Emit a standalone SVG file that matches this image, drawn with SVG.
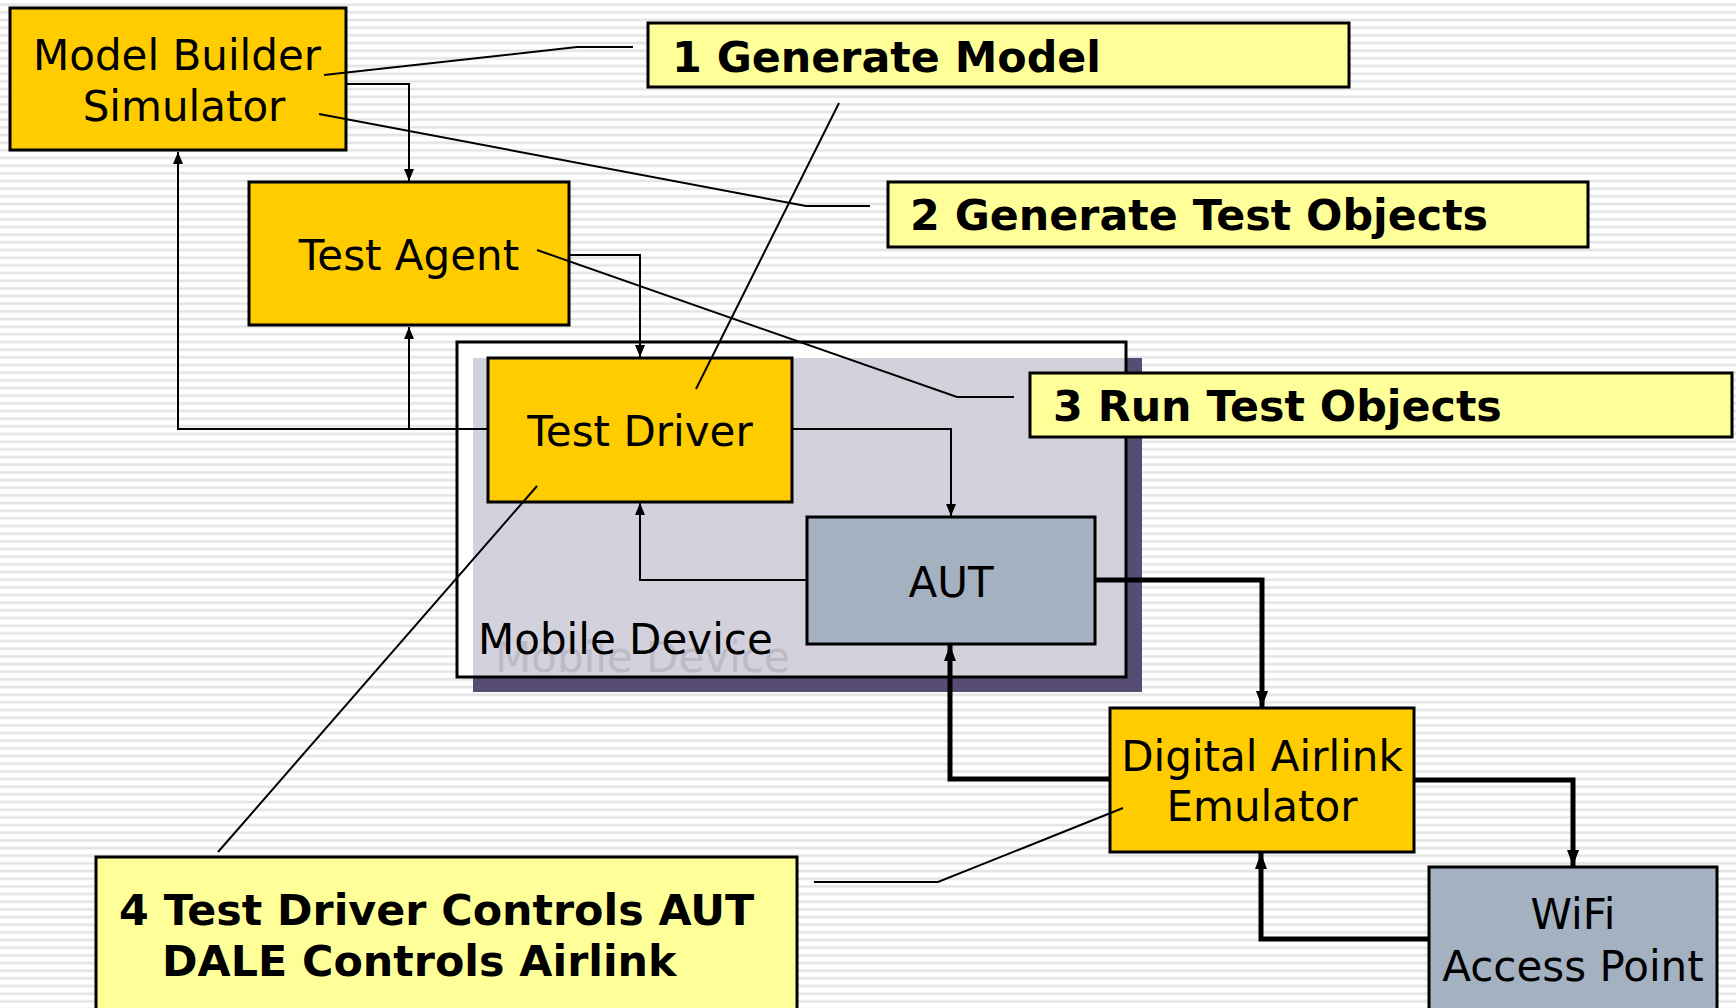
<svg xmlns="http://www.w3.org/2000/svg" width="1736" height="1008" viewBox="0 0 1736 1008">
  <defs>
    <pattern id="stripes" x="0" y="0" width="16" height="7.667" patternUnits="userSpaceOnUse">
      <rect x="0" y="0" width="16" height="7.667" fill="#ffffff"/>
      <rect x="0" y="3.4" width="16" height="2.6" fill="#e4e4e4"/>
    </pattern>
    <marker id="arrow" markerUnits="userSpaceOnUse" markerWidth="12" markerHeight="14" refX="12" refY="5" orient="auto">
      <path d="M0,0 L12,5 L0,10 Z" fill="#000"/>
    </marker>
    <marker id="arrowBold" markerUnits="userSpaceOnUse" markerWidth="16" markerHeight="14" refX="16" refY="6" orient="auto">
      <path d="M0,0 L16,6 L0,12 Z" fill="#000"/>
    </marker>
  </defs>
  <style>
    .block { fill: #ffcc00; stroke: #000; stroke-width: 3; }
    .device { fill: #a3b1c1; stroke: #000; stroke-width: 3; }
    .note { fill: #ffff99; stroke: #000; stroke-width: 3; }
    .txt { font-family: "DejaVu Sans", Verdana, sans-serif; font-size: 42px; fill: #000; }
    .ghost { fill: #bdbac6; }
    .mid { text-anchor: middle; }
    .bold { font-family: "DejaVu Sans", Verdana, sans-serif; font-size: 42.8px; font-weight: bold; fill: #000; }
    .link { fill: none; stroke: #000; stroke-width: 2; marker-end: url(#arrow); }
    .thick { fill: none; stroke: #000; stroke-width: 5; marker-end: url(#arrowBold); }
    .leader { fill: none; stroke: #000; stroke-width: 2; }
  </style>

  <!-- striped background -->
  <rect x="0" y="0" width="1736" height="1008" fill="url(#stripes)"/>

  <!-- Mobile Device container with drop shadow -->
  <g id="mobile-device">
    <rect x="473" y="358" width="669" height="334" fill="#564c74"/>
    <rect x="457" y="342" width="669" height="335" fill="#ffffff"/>
    <rect x="473" y="358" width="653" height="319" fill="#d3d1dc"/>
    <rect x="457" y="342" width="669" height="335" fill="none" stroke="#000" stroke-width="3"/>
    <text class="txt ghost" x="495" y="672">Mobile Device</text>
    <text class="txt" x="478" y="654">Mobile Device</text>
  </g>

  <g id="model-builder">
    <rect class="block" x="10" y="8" width="336" height="142"/>
    <text class="txt mid" x="177" y="70">Model Builder</text>
    <text class="txt mid" x="184" y="121">Simulator</text>
  </g>

  <g id="test-agent">
    <rect class="block" x="249" y="182" width="320" height="143"/>
    <text class="txt mid" x="409" y="270">Test Agent</text>
  </g>

  <g id="test-driver">
    <rect class="block" x="488" y="358" width="304" height="144"/>
    <text class="txt mid" x="640" y="446">Test Driver</text>
  </g>

  <g id="aut">
    <rect class="device" x="807" y="517" width="288" height="127"/>
    <text class="txt mid" x="951" y="597">AUT</text>
  </g>

  <g id="dale">
    <rect class="block" x="1110" y="708" width="304" height="144"/>
    <text class="txt mid" x="1262" y="771">Digital Airlink</text>
    <text class="txt mid" x="1262" y="821">Emulator</text>
  </g>

  <g id="wifi">
    <rect class="device" x="1429" y="867" width="288" height="150"/>
    <text class="txt mid" x="1573" y="929">WiFi</text>
    <text class="txt mid" x="1573" y="981">Access Point</text>
  </g>

  <!-- connectors -->
  <g id="connectors">
    <path class="link" d="M346,84 H409 V181"/>
    <path class="link" d="M488,429 H178 V152"/>
    <path class="link" d="M409,429 V327"/>
    <path class="link" d="M569,255 H640 V357"/>
    <path class="link" d="M792,429 H951 V516"/>
    <path class="link" d="M807,580 H640 V503"/>
    <path class="thick" d="M1095,580 H1262 V707"/>
    <path class="thick" d="M1110,779 H950 V645"/>
    <path class="thick" d="M1414,780 H1573 V866"/>
    <path class="thick" d="M1429,939 H1261 V853"/>

    <!-- callout leaders -->
    <path class="leader" d="M324,75 L577,47 H633"/>
    <path class="leader" d="M839,103 L696,389"/>
    <path class="leader" d="M319,114 L806,206 H870"/>
    <path class="leader" d="M537,250 L957,397 H1014"/>
    <path class="leader" d="M537,486 L218,852"/>
    <path class="leader" d="M1123,808 L938,882 H814"/>
  </g>

  <!-- step callouts -->
  <g id="step-1">
    <rect class="note" x="648" y="23" width="701" height="64"/>
    <text class="bold" x="672" y="72">1 Generate Model</text>
  </g>
  <g id="step-2">
    <rect class="note" x="888" y="182" width="700" height="65"/>
    <text class="bold" x="910" y="230">2 Generate Test Objects</text>
  </g>
  <g id="step-3">
    <rect class="note" x="1030" y="373" width="702" height="64"/>
    <text class="bold" x="1053" y="421">3 Run Test Objects</text>
  </g>
  <g id="step-4">
    <rect class="note" x="96" y="857" width="701" height="160"/>
    <text class="bold" x="119" y="925">4 Test Driver Controls AUT</text>
    <text class="bold" x="162" y="976">DALE Controls Airlink</text>
  </g>
</svg>
